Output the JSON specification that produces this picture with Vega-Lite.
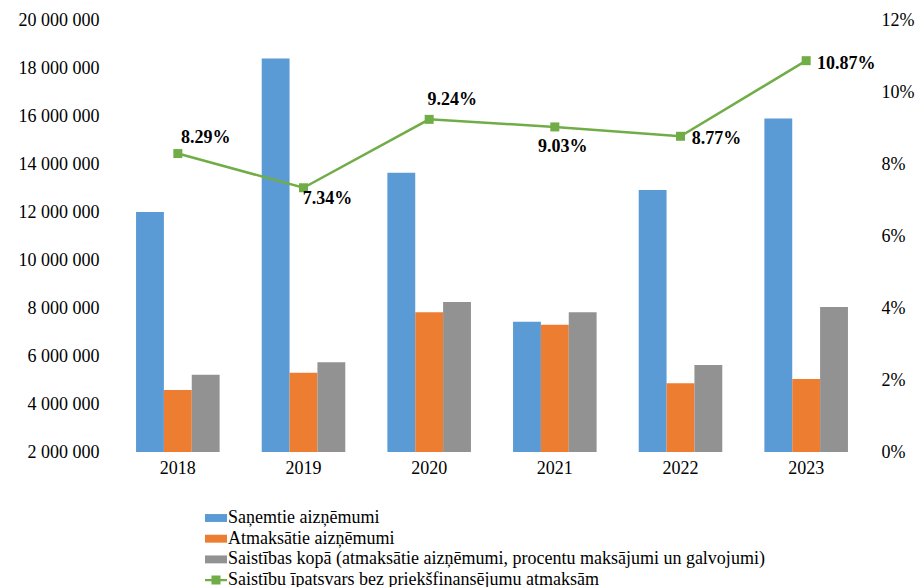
{
  "$schema": "https://vega.github.io/schema/vega-lite/v6.json",
  "width": 754,
  "height": 432,
  "autosize": {"type": "none"},
  "padding": {"left": 115, "top": 20, "right": 48, "bottom": 135},
  "background": "white",
  "config": {
    "view": {"stroke": null},
    "font": "Liberation Serif",
    "axis": {"labelFont": "Liberation Serif", "labelFontSize": 18, "labelColor": "#000000", "grid": false, "ticks": false, "domain": false, "title": null},
    "legend": {"labelFont": "Liberation Serif", "labelFontSize": 18, "labelColor": "#000000", "labelLimit": 0, "labelOffset": 1, "rowPadding": 0.7, "symbolSize": 484, "symbolStrokeWidth": 0, "padding": 0}
  },
  "datasets": {
    "amounts": [
      {"year": "2018", "series": "Saņemtie aizņēmumi", "value": 12000000},
      {"year": "2018", "series": "Atmaksātie aizņēmumi", "value": 4580000},
      {"year": "2018", "series": "Saistības kopā (atmaksātie aizņēmumi, procentu maksājumi un galvojumi)", "value": 5220000},
      {"year": "2019", "series": "Saņemtie aizņēmumi", "value": 18400000},
      {"year": "2019", "series": "Atmaksātie aizņēmumi", "value": 5300000},
      {"year": "2019", "series": "Saistības kopā (atmaksātie aizņēmumi, procentu maksājumi un galvojumi)", "value": 5740000},
      {"year": "2020", "series": "Saņemtie aizņēmumi", "value": 13640000},
      {"year": "2020", "series": "Atmaksātie aizņēmumi", "value": 7820000},
      {"year": "2020", "series": "Saistības kopā (atmaksātie aizņēmumi, procentu maksājumi un galvojumi)", "value": 8250000},
      {"year": "2021", "series": "Saņemtie aizņēmumi", "value": 7430000},
      {"year": "2021", "series": "Atmaksātie aizņēmumi", "value": 7300000},
      {"year": "2021", "series": "Saistības kopā (atmaksātie aizņēmumi, procentu maksājumi un galvojumi)", "value": 7820000},
      {"year": "2022", "series": "Saņemtie aizņēmumi", "value": 12920000},
      {"year": "2022", "series": "Atmaksātie aizņēmumi", "value": 4860000},
      {"year": "2022", "series": "Saistības kopā (atmaksātie aizņēmumi, procentu maksājumi un galvojumi)", "value": 5630000},
      {"year": "2023", "series": "Saņemtie aizņēmumi", "value": 15900000},
      {"year": "2023", "series": "Atmaksātie aizņēmumi", "value": 5040000},
      {"year": "2023", "series": "Saistības kopā (atmaksātie aizņēmumi, procentu maksājumi un galvojumi)", "value": 8040000}
    ],
    "ratio": [
      {"year": "2018", "ratio": 0.0829},
      {"year": "2019", "ratio": 0.0734},
      {"year": "2020", "ratio": 0.0924},
      {"year": "2021", "ratio": 0.0903},
      {"year": "2022", "ratio": 0.0877},
      {"year": "2023", "ratio": 0.1087}
    ]
  },
  "encoding": {
    "x": {"field": "year", "type": "nominal", "title": null, "axis": {"labelAngle": 0, "labelPadding": 7}, "scale": {"paddingInner": 0.335, "paddingOuter": 0.1675}}
  },
  "layer": [
    {
      "data": {"name": "amounts"},
      "mark": {"type": "bar"},
      "encoding": {
        "xOffset": {"field": "series", "type": "nominal", "sort": ["Saņemtie aizņēmumi", "Atmaksātie aizņēmumi", "Saistības kopā (atmaksātie aizņēmumi, procentu maksājumi un galvojumi)"], "scale": {"paddingInner": 0, "paddingOuter": 0}},
        "y": {"field": "value", "type": "quantitative", "scale": {"domain": [2000000, 20000000], "nice": false, "zero": false}, "axis": {"orient": "left", "values": [2000000, 4000000, 6000000, 8000000, 10000000, 12000000, 14000000, 16000000, 18000000, 20000000], "labelPadding": 16, "labelExpr": "replace(replace(format(datum.value, ','), ',', ' '), ',', ' ')"}},
        "y2": {"datum": 2000000},
        "color": {
          "field": "series",
          "type": "nominal",
          "scale": {
            "domain": ["Saņemtie aizņēmumi", "Atmaksātie aizņēmumi", "Saistības kopā (atmaksātie aizņēmumi, procentu maksājumi un galvojumi)", "Saistību īpatsvars bez priekšfinansējumu atmaksām"],
            "range": ["#5B9BD5", "#ED7D31", "#929292", "#70AD47"]
          },
          "legend": {
            "title": null,
            "orient": "none",
            "legendX": 90,
            "legendY": 487,
            "direction": "vertical",
            "labelFont": "Liberation Serif",
            "labelFontSize": 18,
            "rowPadding": 0.7,
            "encode": {
              "labels": {
                "update": {
                  "font": {"value": "Liberation Serif"},
                  "fontSize": {"value": 18}
                }
              },
              "symbols": {
                "update": {
                  "shape": {"signal": "datum.value === 'Saistību īpatsvars bez priekšfinansējumu atmaksām' ? 'M-1,-0.11H1V0.11H-1Z M-0.41,-0.41H0.41V0.41H-0.41Z' : 'M-1,-0.36H1V0.36H-1Z'"},
                  "fillOpacity": {"value": 1},
                  "strokeWidth": {"value": 0}
                }
              }
            }
          }
        }
      }
    },
    {
      "data": {"name": "ratio"},
      "encoding": {
        "y": {"field": "ratio", "type": "quantitative", "scale": {"domain": [0, 0.12], "nice": false}, "axis": {"orient": "right", "values": [0, 0.02, 0.04, 0.06, 0.08, 0.1, 0.12], "format": ".0%", "labelPadding": 12}}
      },
      "layer": [
        {
          "mark": {"type": "line", "color": "#70AD47", "strokeWidth": 2.5, "point": {"shape": "square", "size": 81, "filled": true, "color": "#70AD47"}}
        },
        {
          "transform": [{"filter": "datum.year === '2018'"}],
          "mark": {"type": "text", "font": "Liberation Serif", "fontSize": 18, "fontWeight": "bold", "color": "#000000", "align": "center", "baseline": "middle", "dx": 28, "dy": -16},
          "encoding": {"text": {"field": "ratio", "format": ".2%"}}
        },
        {
          "transform": [{"filter": "datum.year === '2019'"}],
          "mark": {"type": "text", "font": "Liberation Serif", "fontSize": 18, "fontWeight": "bold", "color": "#000000", "align": "center", "baseline": "middle", "dx": 24, "dy": 11},
          "encoding": {"text": {"field": "ratio", "format": ".2%"}}
        },
        {
          "transform": [{"filter": "datum.year === '2020'"}],
          "mark": {"type": "text", "font": "Liberation Serif", "fontSize": 18, "fontWeight": "bold", "color": "#000000", "align": "center", "baseline": "middle", "dx": 23, "dy": -19},
          "encoding": {"text": {"field": "ratio", "format": ".2%"}}
        },
        {
          "transform": [{"filter": "datum.year === '2021'"}],
          "mark": {"type": "text", "font": "Liberation Serif", "fontSize": 18, "fontWeight": "bold", "color": "#000000", "align": "center", "baseline": "middle", "dx": 8, "dy": 20},
          "encoding": {"text": {"field": "ratio", "format": ".2%"}}
        },
        {
          "transform": [{"filter": "datum.year === '2022'"}],
          "mark": {"type": "text", "font": "Liberation Serif", "fontSize": 18, "fontWeight": "bold", "color": "#000000", "align": "center", "baseline": "middle", "dx": 36, "dy": 3},
          "encoding": {"text": {"field": "ratio", "format": ".2%"}}
        },
        {
          "transform": [{"filter": "datum.year === '2023'"}],
          "mark": {"type": "text", "font": "Liberation Serif", "fontSize": 18, "fontWeight": "bold", "color": "#000000", "align": "center", "baseline": "middle", "dx": 40, "dy": 3},
          "encoding": {"text": {"field": "ratio", "format": ".2%"}}
        }
      ]
    }
  ],
  "resolve": {"scale": {"y": "independent"}}
}
